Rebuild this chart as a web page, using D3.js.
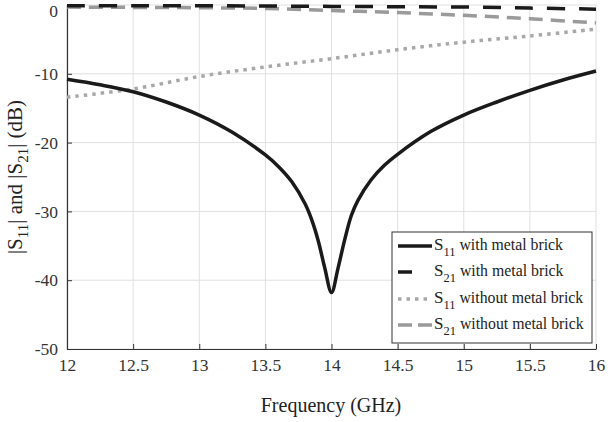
<!DOCTYPE html>
<html><head><meta charset="utf-8">
<script src="https://cdn.jsdelivr.net/npm/d3@7"></script>
<style>body{margin:0;background:#fff}svg{display:block}text{font-family:"Liberation Serif","Times New Roman",serif;}</style>
</head><body>
<svg id="c" width="608" height="422"></svg>
<script>
const s11WithFreq = [12,12.25,12.5,12.75,13,13.25,13.5,13.6,13.7,13.8,13.85,13.9,13.95,14,14.05,14.1,14.15,14.2,14.3,14.4,14.5,14.75,15,15.25,15.5,15.75,16];
const s11WithVals = [-10.8,-11.6,-12.6,-14.1,-16.0,-18.5,-21.8,-23.5,-25.7,-28.9,-31.2,-34.3,-38.3,-41.8,-38.2,-34.1,-30.6,-28.4,-25.4,-23.3,-21.7,-18.4,-16.0,-14.1,-12.4,-10.9,-9.6];
const freqCoarse = [12,12.5,13,13.5,14,14.5,15,15.5,16];
const s21WithVals = [-0.1,-0.1,-0.1,-0.15,-0.2,-0.25,-0.3,-0.45,-0.6];
const s11WithoutVals = [-13.4,-12.2,-10.4,-9.0,-7.8,-6.5,-5.4,-4.5,-3.5];
const s21WithoutVals = [-0.3,-0.35,-0.4,-0.5,-0.8,-1.1,-1.5,-2.0,-2.6];
const xTicks = [12,12.5,13,13.5,14,14.5,15,15.5,16];
const yTicks = [0,-10,-20,-30,-40,-50];

const svg = d3.select('#c');
const m = {l:67, r:596, t:5, b:349};
const x = d3.scaleLinear().domain([12,16]).range([m.l,m.r]);
const y = d3.scaleLinear().domain([-50,0]).range([m.b,m.t]);

// grid
svg.append('g').selectAll('line').data(xTicks).join('line')
  .attr('x1',d=>x(d)).attr('x2',d=>x(d)).attr('y1',m.t).attr('y2',m.b)
  .attr('stroke','#e0e0e0').attr('stroke-width',1);
svg.append('g').selectAll('line').data(yTicks).join('line')
  .attr('x1',m.l).attr('x2',m.r).attr('y1',d=>y(d)).attr('y2',d=>y(d))
  .attr('stroke','#e0e0e0').attr('stroke-width',1);

// axes
const xa = svg.append('g').attr('transform',`translate(0,${m.b})`)
  .call(d3.axisBottom(x).tickValues(xTicks).tickFormat(d=>d).tickSizeInner(-5).tickSizeOuter(0).tickPadding(10));
const ya = svg.append('g').attr('transform',`translate(${m.l},0)`)
  .call(d3.axisLeft(y).tickValues(yTicks).tickFormat(d=>d).tickSizeInner(-5).tickSizeOuter(0).tickPadding(9));
[xa,ya].forEach(g=>{
  g.select('.domain').attr('stroke','#333').attr('stroke-width',1.2);
  g.selectAll('.tick line').attr('stroke','#333');
  g.selectAll('.tick text').attr('fill','#333').style('font-size','17.5px').style('font-family','"Liberation Serif",serif');
});
ya.selectAll('.tick text').filter(d=>d===0).attr('dy','0.68em');

const line = d3.line().x(d=>x(d[0])).y(d=>y(d[1])).curve(d3.curveCatmullRom.alpha(0.5));
const series = [
  {f:freqCoarse, v:s21WithoutVals, color:'#9a9a9a', dash:'14,8', w:3.5},
  {f:freqCoarse, v:s11WithoutVals, color:'#a8a8a8', dash:'3.5,5', w:3.5},
  {f:freqCoarse, v:s21WithVals, color:'#1a1a1a', dash:'18,14', w:3.5},
  {f:s11WithFreq, v:s11WithVals, color:'#1a1a1a', dash:null, w:3.5}
];
series.forEach(s=>{
  svg.append('path').datum(s.f.map((f,i)=>[f,s.v[i]]))
    .attr('d',line).attr('fill','none').attr('stroke',s.color)
    .attr('stroke-width',s.w).attr('stroke-dasharray',s.dash);
});

// legend
const lg = svg.append('g');
lg.append('rect').attr('x',392).attr('y',232).attr('width',200).attr('height',111)
  .attr('fill','#fff').attr('stroke','#333').attr('stroke-width',1);
const legendItems = [
  {sub:'11', txt:' with metal brick', color:'#1a1a1a', dash:null, x1:398, x2:432},
  {sub:'21', txt:' with metal brick', color:'#1a1a1a', dash:null, x1:398, x2:412},
  {sub:'11', txt:' without metal brick', color:'#a8a8a8', dash:'3.5,5', x1:398, x2:432},
  {sub:'21', txt:' without metal brick', color:'#9a9a9a', dash:'14,6', x1:398, x2:432}
];
const rowY = [246, 272, 299, 325];
legendItems.forEach((it,i)=>{
  const yy = rowY[i];
  lg.append('line').attr('x1',it.x1).attr('x2',it.x2).attr('y1',yy).attr('y2',yy)
    .attr('stroke',it.color).attr('stroke-width',3.5).attr('stroke-dasharray',it.dash);
  const t = lg.append('text').attr('x',434).attr('y',yy+4).attr('fill','#222').style('font-size','15.8px');
  t.append('tspan').text('S').style('font-size','17px');
  t.append('tspan').text(it.sub).attr('dy',6).style('font-size','12.5px');
  t.append('tspan').text(it.txt).attr('dy',-6);
});

// axis labels
svg.append('text').attr('x',331).attr('y',412).attr('text-anchor','middle')
  .attr('fill','#222').style('font-size','20px').text('Frequency (GHz)');
const yl = svg.append('text').attr('transform','translate(22,177) rotate(-90)')
  .attr('text-anchor','middle').attr('fill','#222').style('font-size','21px');
yl.append('tspan').text('|S');
yl.append('tspan').text('11').attr('dy',6).style('font-size','15px');
yl.append('tspan').text('| and |S').attr('dy',-6);
yl.append('tspan').text('21').attr('dy',6).style('font-size','15px');
yl.append('tspan').text('| (dB)').attr('dy',-6);
</script>
</body></html>
